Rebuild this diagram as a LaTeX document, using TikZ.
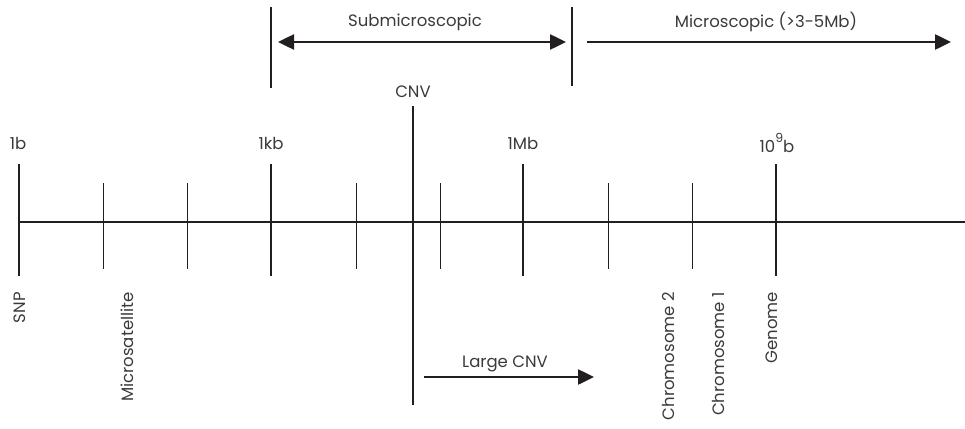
\documentclass[tikz,border=0pt]{standalone}
\usepackage{fontspec}
\setmainfont{Poppins}
\usetikzlibrary{arrows.meta}
\definecolor{ink}{HTML}{231F20}
\definecolor{txt}{HTML}{3A3A3A}
\newcommand{\expo}[1]{\raisebox{0.55em}{\fontsize{12.5}{13}\selectfont #1}}
\begin{document}
\begin{tikzpicture}[x=1pt,y=-1pt,
  axis/.style={draw=ink,line width=1.6pt},
  major/.style={draw=ink,line width=1.4pt},
  minor/.style={draw=ink,line width=0.9pt},
  bar/.style={draw=ink,line width=1.6pt},
  cnvline/.style={draw=ink,line width=2.2pt},
  spanline/.style={draw=ink,line width=2.5pt},
  head/.tip={Triangle[length=16pt,width=15pt]},
  lbl/.style={text=txt,font=\fontsize{16.5}{19}\selectfont,inner sep=0pt},
  vlbl/.style={lbl,rotate=90,anchor=east}]
\useasboundingbox (0,0) rectangle (965,428);

% axis
\coordinate (axL) at (19,222);
\coordinate (axR) at (965,222);
\draw[axis] (axL) -- (axR);

% major ticks
\foreach \n/\x in {t1b/19,t1kb/271,t1Mb/523,t1Gb/776}{
  \coordinate (\n-top) at (\x,164);
  \coordinate (\n-bot) at (\x,276);
  \draw[major] (\n-top) -- (\n-bot);
}
% minor ticks
\foreach \n/\x in {m1/103,m2/187,m3/356,m4/440,m5/608,m6/692}{
  \coordinate (\n-top) at (\x,183);
  \coordinate (\n-bot) at (\x,269);
  \draw[minor] (\n-top) -- (\n-bot);
}

% scale labels
\node[lbl] (l1b)  at (18,143) {1b};
\node[lbl] (l1kb) at (271,143) {1kb};
\node[lbl] (l1Mb) at (523,143) {1Mb};
\node[lbl] (l1Gb) at (777,143) {10\expo{9}b};

% CNV marker
\node[lbl] (cnv) at (413,92) {CNV};
\coordinate (cnvTop) at (413,106);
\coordinate (cnvBot) at (413,405);
\draw[cnvline] (cnvTop) -- (cnvBot);

% submicroscopic / microscopic ranges
\coordinate (barA-top) at (271,7);
\coordinate (barA-bot) at (271,88);
\coordinate (barB-top) at (572,7);
\coordinate (barB-bot) at (572,86);
\draw[bar] (barA-top) -- (barA-bot);
\draw[bar] (barB-top) -- (barB-bot);
\coordinate (subL) at (278,42);
\coordinate (subR) at (566,42);
\draw[spanline,head-head] (subL) -- (subR);
\node[lbl] (sub) at (415,22) {Submicroscopic};
\coordinate (micL) at (587,42);
\coordinate (micR) at (951,42);
\draw[spanline,-head] (micL) -- (micR);
\node[lbl] (mic) at (766,22) {Microscopic (>3-5Mb)};

% large CNV
\coordinate (lcL) at (424,377);
\coordinate (lcR) at (594,377);
\draw[spanline,-head] (lcL) -- (lcR);
\node[lbl] (lc) at (505,364) {Large CNV};

% features along the scale
\node[vlbl] (snp)   at (20,292)  {SNP};
\node[vlbl] (msat)  at (127,292) {Microsatellite};
\node[vlbl] (chr2)  at (668,292) {Chromosome 2};
\node[vlbl] (chr1)  at (718,292) {Chromosome 1};
\node[vlbl] (gen)   at (772,292) {Genome};
\end{tikzpicture}
\end{document}
